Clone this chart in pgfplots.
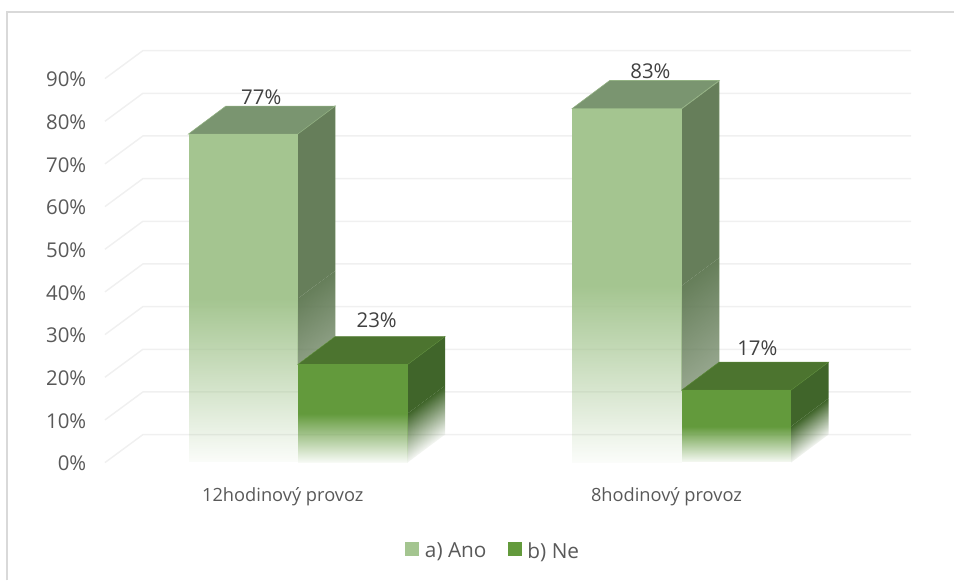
\documentclass[border=0pt]{standalone}
\usepackage{pgfplots}
\pgfplotsset{compat=1.18}
\usepackage{fontspec}
\setmainfont{Open Sans}
\usetikzlibrary{fadings}
\definecolor{anoFront}{HTML}{A4C590}
\definecolor{anoTop}{HTML}{7A9570}
\definecolor{anoSide}{HTML}{667E5A}
\definecolor{neFront}{HTML}{639A3C}
\definecolor{neTop}{HTML}{4C742F}
\definecolor{neSide}{HTML}{40652A}
\definecolor{gridc}{HTML}{F0F0F0}
\definecolor{framec}{HTML}{D9D9D9}

% Solid in the upper half of a face, fading out over the lower half
\begin{tikzfadingfrompicture}[name=lowerfade]
  \fill[transparent!0] (-400bp,0bp) rectangle (400bp,400bp);
  \shade[top color=transparent!0,bottom color=transparent!96] (-400bp,-25bp) rectangle (400bp,0bp);
  \fill[transparent!96] (-400bp,-400bp) rectangle (400bp,-25bp);
\end{tikzfadingfrompicture}

\pgfplotsset{
  anoedge/.style={draw=anoFront!60!anoTop,line width=0.4pt},
  anosideedge/.style={draw=anoFront!45!anoSide,line width=0.3pt},
  needge/.style={draw=neFront!50!neTop,line width=0.35pt},
}

\begin{document}
\begin{tikzpicture}
\begin{axis}[
  scale only axis,
  width=605.25pt,
  height=309.75pt,
  xmin=105, xmax=912,
  ymin=0, ymax=96.72,
  clip=false,
  axis line style={draw=none},
  major tick length=0pt,
  ytick={0,10,...,90},
  yticklabel={\pgfmathprintnumber{\tick}\%},
  xtick={283,667},
  xticklabels={12hodinový provoz,8hodinový provoz},
  tick label style={font=\fontsize{15.3pt}{17pt}\selectfont,text=black!65},
  /pgf/number format/assume math mode=true,
  ytick style={draw=none},
  xtick style={draw=none},
  yticklabel style={xshift=-10.5pt,yshift=-0.7pt},
  xticklabel style={yshift=-15pt,font=\fontsize{13.7pt}{17pt}\selectfont},
  legend columns=2,
  legend style={
    at={(0.482,-0.2145)},anchor=center,draw=none,fill=none,
    font=\fontsize{15.6pt}{17pt}\selectfont,text=black!65,
    /tikz/every even column/.append style={column sep=14pt},
    /tikz/every odd column/.append style={column sep=2.2pt},
  },
  legend image code/.code={
    \fill[draw=none,#1] (0cm,-0.14cm) rectangle (0.37cm,0.23cm);
  },
]
% page extent and chart frame
\path (axis cs:0,-27.63) rectangle (axis cs:955,108.43);
\addplot[framec,line width=1.2pt,forget plot] coordinates {(7,-27.63) (7,105.6) (955,105.6)};

% gridlines: front corner, back corner, far end
\addplot[gridc,line width=1.1pt,forget plot] coordinates {(105,0) (143,6.56) (912,6.56)};
\addplot[gridc,line width=1.1pt,forget plot] coordinates {(105,10) (143,16.56) (912,16.56)};
\addplot[gridc,line width=1.1pt,forget plot] coordinates {(105,20) (143,26.56) (912,26.56)};
\addplot[gridc,line width=1.1pt,forget plot] coordinates {(105,30) (143,36.56) (912,36.56)};
\addplot[gridc,line width=1.1pt,forget plot] coordinates {(105,40) (143,46.56) (912,46.56)};
\addplot[gridc,line width=1.1pt,forget plot] coordinates {(105,50) (143,56.56) (912,56.56)};
\addplot[gridc,line width=1.1pt,forget plot] coordinates {(105,60) (143,66.56) (912,66.56)};
\addplot[gridc,line width=1.1pt,forget plot] coordinates {(105,70) (143,76.56) (912,76.56)};
\addplot[gridc,line width=1.1pt,forget plot] coordinates {(105,80) (143,86.56) (912,86.56)};
\addplot[gridc,line width=1.1pt,forget plot] coordinates {(105,90) (143,96.56) (912,96.56)};

% 12hodinový provoz, a) Ano = 77 (side face stops at the top of the neighbouring bar)
\addplot[fill=anoSide,anosideedge,forget plot,path fading=lowerfade,fit fading=true,fading transform={yshift=-9.5bp,rotate=6.2,yscale=2}]
  coordinates {(298,23) (335.5,29.56) (335.5,83.56) (298,77)} --cycle;
\addplot[fill=anoTop,anoedge,forget plot]
  coordinates {(188.5,77) (298,77) (335.5,83.56) (226,83.56)} --cycle;
\addplot[fill=anoFront,draw=none,forget plot,path fading=lowerfade,fit fading=true]
  coordinates {(188.5,0) (298,0) (298,77) (188.5,77)} --cycle;

% 12hodinový provoz, b) Ne = 23
\addplot[fill=neSide,draw=none,forget plot,path fading=lowerfade,fit fading=true,fading transform={rotate=12.5,yscale=0.76}]
  coordinates {(408,0) (445.5,6.56) (445.5,29.56) (408,23)} --cycle;
\addplot[fill=neTop,needge,forget plot]
  coordinates {(298,23) (408,23) (445.5,29.56) (335.5,29.56)} --cycle;
\addplot[fill=neFront,draw=none,forget plot,path fading=lowerfade,fit fading=true]
  coordinates {(298,0) (408,0) (408,23) (298,23)} --cycle;

% 8hodinový provoz, a) Ano = 83
\addplot[fill=anoSide,anosideedge,forget plot,path fading=lowerfade,fit fading=true,fading transform={yshift=-5.85bp,rotate=5.2,yscale=2.1}]
  coordinates {(682.3,17) (719.8,23.56) (719.8,89.56) (682.3,83)} --cycle;
\addplot[fill=anoTop,anoedge,forget plot]
  coordinates {(572.7,83) (682.3,83) (719.8,89.56) (610.2,89.56)} --cycle;
\addplot[fill=anoFront,draw=none,forget plot,path fading=lowerfade,fit fading=true]
  coordinates {(572.7,0) (682.3,0) (682.3,83) (572.7,83)} --cycle;

% 8hodinový provoz, b) Ne = 17
\addplot[fill=neSide,draw=none,forget plot,path fading=lowerfade,fit fading=true,fading transform={rotate=15.6,yscale=0.7}]
  coordinates {(791.8,0) (829.3,6.56) (829.3,23.56) (791.8,17)} --cycle;
\addplot[fill=neTop,needge,forget plot]
  coordinates {(682.3,17) (791.8,17) (829.3,23.56) (719.8,23.56)} --cycle;
\addplot[fill=neFront,draw=none,forget plot,path fading=lowerfade,fit fading=true]
  coordinates {(682.3,0) (791.8,0) (791.8,17) (682.3,17)} --cycle;

% value labels
\node[font=\fontsize{15.3pt}{17pt}\selectfont,text=black!75] at (axis cs:261.5,85.6) {77\%};
\node[font=\fontsize{15.3pt}{17pt}\selectfont,text=black!75] at (axis cs:377,33.3) {23\%};
\node[font=\fontsize{15.3pt}{17pt}\selectfont,text=black!75] at (axis cs:651,91.8) {83\%};
\node[font=\fontsize{15.3pt}{17pt}\selectfont,text=black!75] at (axis cs:758,26.9) {17\%};

% legend entries
\addlegendimage{fill=anoFront}
\addlegendentry{a) Ano}
\addlegendimage{fill=neFront}
\addlegendentry{b) Ne}
\end{axis}
\end{tikzpicture}
\end{document}
